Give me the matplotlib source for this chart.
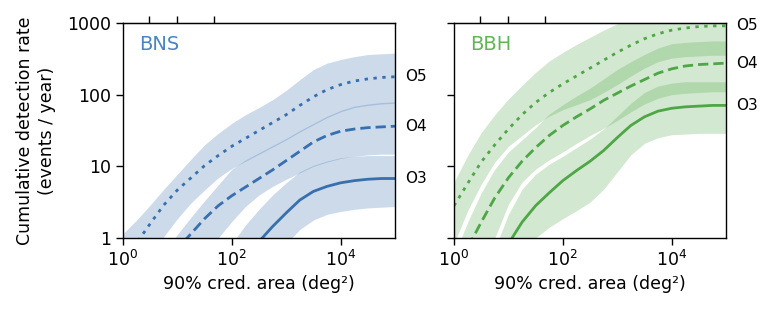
import numpy as np
import matplotlib
matplotlib.use("Agg")
import matplotlib.pyplot as plt

# 90% credible area grid (deg^2), quarter-decade steps
area = [1, 1.78, 3.16, 5.62, 10, 17.8, 31.6, 56.2, 100, 178, 316, 562,
        1000, 1780, 3160, 5620, 1e4, 1.78e4, 3.16e4, 5.62e4, 1e5]

# log10 of cumulative detection rate (events / year)
# BNS
bns_o5_lo = [-0.75, -0.5, -0.24, 0.02, 0.27, 0.49, 0.67, 0.84, 0.97, 1.07, 1.17,
             1.27, 1.37, 1.48, 1.58, 1.68, 1.76, 1.82, 1.85, 1.87, 1.88]
bns_o5_mid = [-0.35, -0.07, 0.2, 0.46, 0.67, 0.84, 1.01, 1.15, 1.28, 1.39, 1.5,
              1.61, 1.72, 1.85, 1.97, 2.07, 2.14, 2.19, 2.22, 2.24, 2.25]
bns_o5_hi = [0.06, 0.25, 0.46, 0.68, 0.89, 1.1, 1.3, 1.46, 1.6, 1.72, 1.82,
             1.93, 2.06, 2.21, 2.35, 2.44, 2.49, 2.53, 2.56, 2.57, 2.58]
bns_o4_lo = [-1.5, -1.3, -1.1, -0.9, -0.68, -0.46, -0.23, 0.0, 0.23, 0.44, 0.6,
             0.72, 0.82, 0.91, 1.0, 1.06, 1.11, 1.14, 1.16, 1.17, 1.17]
bns_o4_mid = [-1.1, -0.85, -0.6, -0.37, -0.15, 0.06, 0.27, 0.45, 0.59, 0.71, 0.83,
              0.95, 1.08, 1.21, 1.34, 1.43, 1.49, 1.52, 1.54, 1.55, 1.56]
bns_o4_hi = [-1.0, -0.72, -0.45, -0.19, 0.05, 0.29, 0.52, 0.74, 0.96, 1.09, 1.19,
             1.29, 1.39, 1.5, 1.6, 1.7, 1.78, 1.84, 1.87, 1.89, 1.9]
bns_o3_lo = [-2.6, -2.45, -2.3, -2.15, -2.0, -1.85, -1.7, -1.5, -1.3, -1.05, -0.75,
             -0.4, -0.08, 0.12, 0.25, 0.33, 0.37, 0.4, 0.42, 0.43, 0.44]
bns_o3_mid = [-2.2, -2.0, -1.8, -1.6, -1.4, -1.2, -0.98, -0.75, -0.5, -0.27, -0.05,
              0.16, 0.35, 0.53, 0.65, 0.72, 0.77, 0.8, 0.82, 0.83, 0.83]
bns_o3_hi = [-1.9, -1.7, -1.5, -1.3, -1.1, -0.85, -0.6, -0.35, -0.08, 0.18, 0.4,
             0.6, 0.77, 0.925, 1.015, 1.075, 1.12, 1.14, 1.15, 1.15, 1.15]

# BBH
bbh_o5_lo = [-0.08, 0.38, 0.75, 1.06, 1.28, 1.43, 1.58, 1.7, 1.79, 1.86, 1.93,
             2.03, 2.14, 2.26, 2.37, 2.46, 2.51, 2.53, 2.54, 2.55, 2.55]
bbh_o5_mid = [0.45, 0.76, 1.06, 1.3, 1.52, 1.72, 1.89, 2.03, 2.15, 2.26, 2.37,
              2.48, 2.59, 2.69, 2.78, 2.85, 2.9, 2.93, 2.95, 2.96, 2.96]
bbh_o5_hi = [0.78, 1.15, 1.47, 1.72, 1.94, 2.13, 2.31, 2.47, 2.59, 2.7, 2.8,
             2.9, 2.99, 3.08, 3.16, 3.23, 3.28, 3.31, 3.33, 3.34, 3.35]
bbh_o4_lo = [-1.2, -0.8, -0.4, 0.0, 0.47, 0.78, 0.96, 1.09, 1.2, 1.32, 1.43,
             1.53, 1.64, 1.76, 1.87, 1.95, 2.0, 2.02, 2.03, 2.04, 2.04]
bbh_o4_mid = [-0.5, -0.14, 0.22, 0.56, 0.84, 1.07, 1.26, 1.43, 1.57, 1.69, 1.8,
              1.92, 2.02, 2.12, 2.21, 2.3, 2.36, 2.4, 2.42, 2.43, 2.44]
bbh_o4_hi = [-0.25, 0.22, 0.63, 0.96, 1.2, 1.37, 1.54, 1.73, 1.86, 1.98, 2.09,
             2.22, 2.35, 2.46, 2.56, 2.65, 2.71, 2.73, 2.74, 2.75, 2.75]
bbh_o3_lo = [-2.0, -1.7, -1.4, -1.1, -0.75, -0.38, 0.0, 0.15, 0.27, 0.38, 0.5,
             0.68, 0.92, 1.16, 1.32, 1.4, 1.44, 1.45, 1.46, 1.46, 1.46]
bbh_o3_mid = [-1.6, -1.2, -0.8, -0.4, -0.08, 0.22, 0.45, 0.63, 0.8, 0.94, 1.07,
              1.22, 1.4, 1.57, 1.69, 1.77, 1.81, 1.83, 1.84, 1.85, 1.85]
bbh_o3_hi = [-1.4, -1.0, -0.6, -0.15, 0.33, 0.68, 0.89, 1.03, 1.14, 1.26, 1.38,
             1.52, 1.7, 1.88, 2.03, 2.12, 2.16, 2.18, 2.18, 2.18, 2.18]

runs = ["O5", "O4", "O3"]
dash_patterns = [(1.2, 2.0), (3.7, 1.8), None]
top_ticks = [3, 10, 47]

panels = [
    ("BNS", "#376faf", "#4a84c6",
     [(bns_o5_lo, bns_o5_mid, bns_o5_hi),
      (bns_o4_lo, bns_o4_mid, bns_o4_hi),
      (bns_o3_lo, bns_o3_mid, bns_o3_hi)]),
    ("BBH", "#4fa646", "#62b457",
     [(bbh_o5_lo, bbh_o5_mid, bbh_o5_hi),
      (bbh_o4_lo, bbh_o4_mid, bbh_o4_hi),
      (bbh_o3_lo, bbh_o3_mid, bbh_o3_hi)]),
]

fig = plt.figure(figsize=(7.68, 3.12), dpi=100)
lefts = [123 / 768, 454 / 768]

for i, (name, col, tcol, curves) in enumerate(panels):
    ax = fig.add_axes([lefts[i], 1 - 238 / 312, 272 / 768, 215 / 312])
    for run, dash, (lo, mid, hi) in zip(runs, dash_patterns, curves):
        lo = 10 ** np.array(lo)
        mid = 10 ** np.array(mid)
        hi = 10 ** np.array(hi)
        ax.fill_between(area, lo, hi, color=col, alpha=0.25, lw=0)
        line, = ax.plot(area, mid, color=col, lw=2)
        if dash is not None:
            line.set_dashes(dash)
        ax.annotate(run, (area[-1], mid[-1]), xytext=(7, 0),
                    textcoords="offset points", va="center", ha="left",
                    fontsize=11, annotation_clip=False)
    ax.set_xscale("log")
    ax.set_yscale("log")
    ax.set_xlim(1, 1e5)
    ax.set_ylim(1, 1000)
    ax.set_xticks([1, 1e2, 1e4])
    ax.set_yticks([1, 10, 100, 1000])
    ax.minorticks_off()
    if i == 0:
        ax.set_yticklabels(["1", "10", "100", "1000"])
        ax.set_ylabel("Cumulative detection rate\n(events / year)",
                      fontsize=12.5, labelpad=8, linespacing=1.3)
    else:
        ax.set_yticklabels([])
    ax.tick_params(labelsize=12.5, length=5, width=1)
    ax.set_xlabel("90% cred. area (deg²)", fontsize=12.5)
    for s in ax.spines.values():
        s.set_linewidth(1.0)
    sec = ax.secondary_xaxis("top")
    sec.set_xscale("log")
    sec.set_xticks(top_ticks)
    sec.set_xticklabels([])
    sec.minorticks_off()
    sec.tick_params(length=5, width=1)
    ax.text(0.06, 0.9, name, transform=ax.transAxes, color=tcol,
            fontsize=14, va="center", ha="left")

fig.savefig("out.png", dpi=100)
